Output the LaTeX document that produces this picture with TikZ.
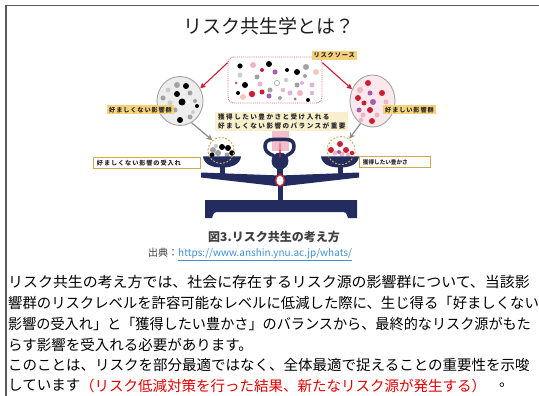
\documentclass[tikz,border=0pt]{standalone}
\usepackage{fontspec}
\usetikzlibrary{arrows.meta,shapes.geometric}
\setmainfont{Noto Sans CJK JP}
\newfontfamily\jp{Noto Sans CJK JP}
\newfontfamily\jplab[LetterSpace=14]{Noto Sans CJK JP}
\newfontfamily\jpwide[LetterSpace=22]{Noto Sans CJK JP}

\definecolor{navy}{HTML}{222C5F}
\definecolor{riskred}{HTML}{CC1F35}
\definecolor{pinkl}{HTML}{F2B3C2}
\definecolor{purp}{HTML}{A95CAB}
\definecolor{lpurp}{HTML}{DDB2DD}
\definecolor{peach}{HTML}{F4C8B8}
\definecolor{graym}{HTML}{A2A2A2}
\definecolor{grayl}{HTML}{CDCDCD}
\definecolor{labelyellow}{HTML}{F6D27A}
\definecolor{beige}{HTML}{F8EFCF}
\definecolor{ochre}{HTML}{D2A84E}
\definecolor{arrowgray}{HTML}{8C8C8C}
\definecolor{framegray}{HTML}{5A5A5A}
\definecolor{urlblue}{HTML}{3F8FD2}
\definecolor{captiongray}{HTML}{404040}

\begin{document}
\begin{tikzpicture}[x=1pt,y=-1pt,
  body/.style={anchor=west, inner sep=0pt, text=black, font=\jp\fontsize{14.5}{20}\selectfont},
  ylabel/.style={fill=labelyellow, inner xsep=2pt, inner ysep=1.5pt, text=black!85, font=\jplab\bfseries\fontsize{6.2}{7}\selectfont},
  wlabel/.style={draw=ochre, line width=0.9pt, fill=white, anchor=north west, inner xsep=2pt, inner ysep=0pt, text=black!85, align=left, font=\jplab\bfseries\fontsize{6.2}{7}\selectfont},
  redarrow/.style={draw=riskred, line width=1.1pt, -{Triangle[length=5pt,width=5pt]}},
  grayarrow/.style={draw=arrowgray, line width=1.2pt, -{Stealth[length=6pt,width=6pt]}},
  dome/.style={circle, draw=ochre, dashed, dash pattern=on 2pt off 1.5pt, line width=0.9pt, inner sep=0pt},
]
\useasboundingbox (0,0) rectangle (539,396);
\fill[white] (0,0) rectangle (539,396);

% slide frame
\draw[framegray, line width=1.8pt] (5.5,5.5) -- (539,5.5);
\draw[framegray, line width=1.8pt] (6,5.5) -- (6,396);

% title
\node[inner sep=0pt, text=black!88, font=\jp\fontsize{19}{22}\selectfont] (title) at (268.5,26.5) {リスク共生学とは？};

% ---------- risk source ----------
\node[draw=riskred!65, densely dotted, line width=0.9pt, rounded corners=6pt, fill=white,
      minimum width=94pt, minimum height=46pt, inner sep=0pt] (src) at (275,80) {};
\foreach \x/\y/\r/\c in {
  240/66/2.6/black, 253/65/3/pinkl, 269/64/3/black, 262/70/2/riskred, 275/72/2.5/purp,
  240/75/2.5/grayl, 257/77/2.5/graym, 236/83/1.5/purp, 245/85/3/black, 260/84/2.5/pinkl,
  270/90/2.5/graym, 286/80/2.2/grayl, 287/70/2/black, 297/72/3/black, 306/67/3/graym,
  316/72/3/peach, 305/76/2/graym, 238/93/2/black, 252/94/3.2/riskred, 262/92/2.5/riskred,
  243/97/3/peach, 269/96/2.5/purp, 283/90/2.2/pinkl, 297/85/2.5/graym, 302/83/2/lpurp,
  312/85/2.5/lpurp, 290/93/2.5/lpurp, 300/93/3/pinkl, 312/93/2.2/lpurp, 308/100/2/black,
  295/99/1.5/purp, 280/98/2/graym}
  \fill[\c] (\x,\y) circle (\r);
\draw[graym, line width=0.6pt] (277,83) circle (2.6);
\node[ylabel, anchor=north east] (srclab) at (357,51) {リスクソース};

% ---------- unwanted impacts ----------
\node[ellipse, draw=grayl!80!black, line width=0.9pt, fill=black!7, minimum width=46pt, minimum height=49pt, inner sep=0pt] (bad) at (180,101) {};
\foreach \x/\y/\r/\c in {
  177/85/3/graym, 186/86/3/black, 168/90/2.5/grayl, 177/94/3/black, 190/93/2.5/graym,
  163/98/2.5/graym, 182/102/3.5/black, 195/101/2/graym, 170/103/2.5/grayl, 197/106/2/black,
  175/110/2.5/graym, 193/112/2/grayl, 165/112/2.2/grayl, 190/117/2.5/graym, 180/120/3/black}
  \fill[\c] (\x,\y) circle (\r);
\fill[white] (188,102) circle (1.8);
\node[ylabel, anchor=north west] (badlab) at (107,105) {好ましくない影響群};

% ---------- wanted impacts ----------
\node[ellipse, draw=grayl!80!black, line width=0.9pt, fill=pinkl!30, minimum width=45pt, minimum height=52pt, inner sep=0pt] (good) at (372.5,101) {};
\foreach \x/\y/\r/\c in {
  368/83/3/riskred, 360/90/3/pinkl, 370/93/2.5/purp, 382/93/3/riskred, 358/98/3/riskred,
  364/103/2.5/riskred, 373/102/3/purp, 386/102/2.5/pinkl, 359/110/2.5/purp, 370/110/3/riskred,
  363/115/2.5/pinkl, 377/115/2.5/pinkl, 372/121/3/riskred, 361/120/2.2/pinkl}
  \fill[\c] (\x,\y) circle (\r);
\node[ylabel, anchor=north west] (goodlab) at (383,105) {好ましい影響群};

% ---------- scale ----------
% base and stem
\fill[navy] (205,200) -- (357,200) -- (357,218) -- (348,218) .. controls (346,212) .. (340,212)
  -- (220,212) .. controls (214,212) .. (212,218) -- (205,218) -- cycle;
\fill[navy] (277.5,184) rectangle (282.5,201);
% beam
\fill[navy] (201,172.5) -- (280,175.5) -- (359,172.5) -- (359,177.5) -- (280,186.5) -- (201,177.5) -- cycle;
% pan posts
\fill[navy] (219.5,164) rectangle (224.5,175);
\fill[navy] (337.5,164) rectangle (342.5,175);
% indicator housing
\fill[pinkl, opacity=0.85] (272,129) rectangle (289,151);
\fill[navy] (277,166) rectangle (283,177);
\fill[navy] (280,161) circle (8.5);
\draw[navy, line width=3.5pt, line cap=round] (273.5,155.5) .. controls (266.5,153) and (265,150) .. (265,146)
  .. controls (265,141.5) and (268,139.5) .. (273,139.5) -- (286,139.5)
  .. controls (291,139.5) and (294,141.5) .. (294,146)
  .. controls (294,150) and (292.5,153) .. (286.5,155.5);
\fill[riskred] (279.2,157) -- (280,138) -- (280.8,157) -- cycle;
\node[ellipse, draw=riskred, fill=white, line width=1.4pt, minimum width=8.5pt, minimum height=11.5pt, inner sep=0pt] (pivot) at (280,180.5) {};

% ---------- balance message ----------
\node[fill=beige, anchor=north west, inner xsep=3pt, inner ysep=1.5pt, align=left, text=black!85,
      font=\jpwide\bfseries\fontsize{6.6}{9}\selectfont] (msg) at (215,112)
  {獲得したい豊かさと受け入れる\\好ましくない影響のバランスが重要};

% left pan load
\foreach \x/\y/\r/\c in {
  222/147/3/black, 213/150/3/graym, 228/148/3/black, 232/153/2.8/black, 218/153/3/graym,
  212/155/2.5/black, 227/155/2.5/graym, 216/146/2.2/grayl}
  \fill[\c] (\x,\y) circle (\r);
\fill[white] (224,151.5) circle (1.8);
% right pan load
\foreach \x/\y/\r/\c in {
  340/144/3/riskred, 331/150/3/riskred, 335/153/2.5/pinkl, 346/150/3/riskred, 342/154/2.5/pinkl,
  339/152/2/purp, 352/153/2.2/riskred, 348/155/2.2/pinkl}
  \fill[\c] (\x,\y) circle (\r);
% pans
\fill[navy] (203,156.5) -- (241,156.5) .. controls (240,164) and (233,167.5) .. (222,167.5)
  .. controls (211,167.5) and (204,164) .. (203,156.5) -- cycle;
\fill[navy] (321,156.5) -- (359,156.5) .. controls (358,164) and (351,167.5) .. (340,167.5)
  .. controls (329,167.5) and (322,164) .. (321,156.5) -- cycle;
% dashed domes over the pans
\node[dome, minimum size=26pt] (ldome) at (221,150.5) {};
\node[dome, minimum size=28pt] (rdome) at (341,150.5) {};

% pan labels
\node[wlabel, minimum width=107pt, minimum height=11pt, text width=100pt] (acc) at (93,157) {好ましくない影響の受入れ};
\node[wlabel, minimum width=71pt, minimum height=11pt, text width=64pt, font=\jp\bfseries\fontsize{5.6}{7}\selectfont] (gain) at (359,156.5) {獲得したい豊かさ};

% connectors
\draw[redarrow] (src.160) -- (bad.32);
\draw[redarrow] (src.20) -- (good.150);
\draw[grayarrow] (bad.-62) -- (ldome.130);
\draw[grayarrow] (good.-118) -- (rdome.55);

% caption and source
\node[inner sep=0pt, text=captiongray, font=\jp\bfseries\fontsize{12}{14}\selectfont] (cap) at (274,237) {図3.リスク共生の考え方};
\node[inner sep=0pt, anchor=west, text=captiongray, font=\jp\fontsize{10}{12}\selectfont] (srcref) at (148,254)
  {出典：\textcolor{urlblue}{\underline{https://www.anshin.ynu.ac.jp/whats/}}};

% body text
\node[body] (l1) at (8,282) {\scalebox{1.03}[1]{リスク共生の考え方では、社会に存在するリスク源の影響群について、当該影}};
\node[body] (l2) at (8,303) {\scalebox{0.99}[1]{響群のリスクレベルを許容可能なレベルに低減した際に、生じ得る「好ましくない}};
\node[body] (l3) at (8,324) {\scalebox{0.975}[1]{影響の受入れ」と「獲得したい豊かさ」のバランスから、最終的なリスク源がもた}};
\node[body] (l4) at (8,344.5) {らす影響を受入れる必要があります。};
\node[body] (l5) at (8,365) {このことは、リスクを部分最適ではなく、全体最適で捉えることの重要性を示唆};
\node[body] (l6) at (8,385.5) {しています};
\node[body, text=red!90!black] (l6red) at (80,385.5) {（リスク低減対策を行った結果、新たなリスク源が発生する）};
\node[body] (l6end) at (499,385.5) {。};
\end{tikzpicture}
\end{document}
